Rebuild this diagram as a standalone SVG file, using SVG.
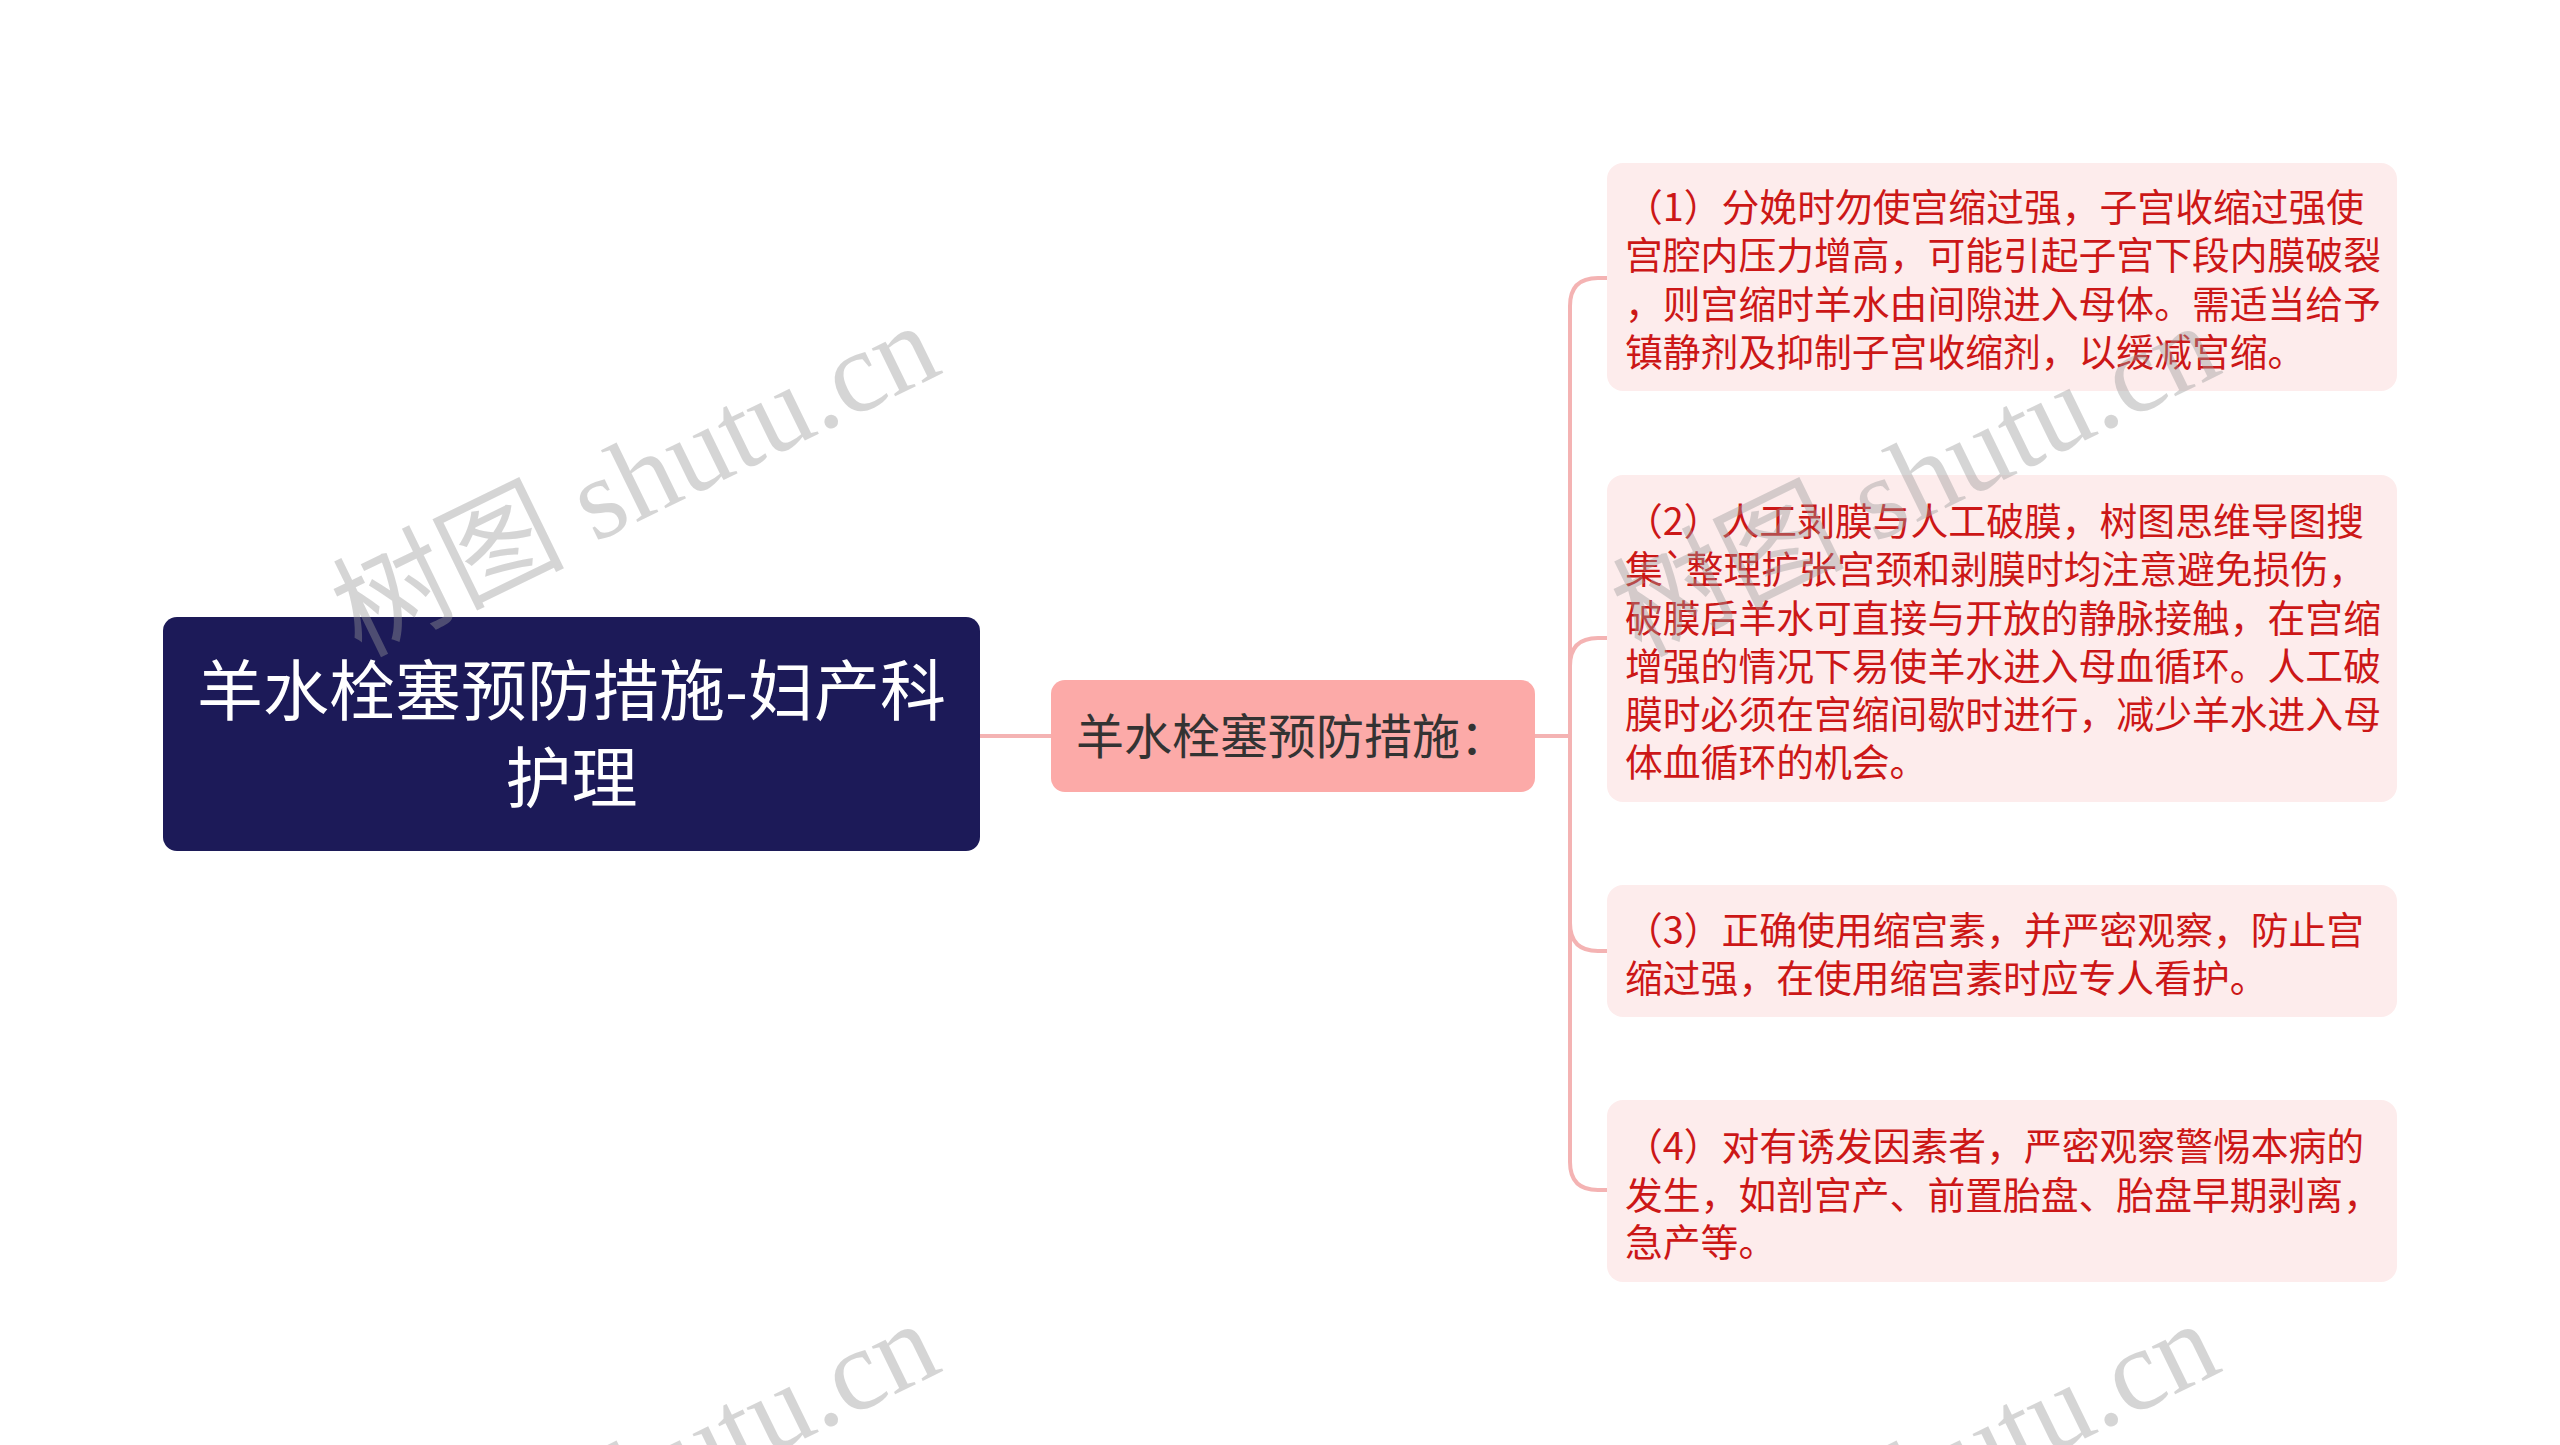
<svg xmlns="http://www.w3.org/2000/svg" width="2560" height="1445" viewBox="0 0 2560 1445">
<style>
.bg{fill:#ffffff}
.conn{fill:none;stroke:#f4b3b3;stroke-width:4;stroke-linecap:round}
.root rect{fill:#1c1a58}
.root text{fill:#ffffff;font-family:"Noto Sans CJK SC","Noto Sans",sans-serif;font-size:66px}
.mid rect{fill:#fcaaa8}
.mid text{fill:#333333;font-family:"Noto Sans CJK SC","Noto Sans",sans-serif;font-size:48px}
.leaf rect{fill:#fdecec}
.leaf text{fill:#cc1717;font-family:"Noto Sans CJK SC","Noto Sans",sans-serif;font-size:37.8px}
.wm{fill:#999999;opacity:0.4;font-family:"Liberation Serif","Noto Sans CJK SC",serif;font-size:116px}
</style>
<rect class="bg" x="0" y="0" width="2560" height="1445"/>
<g id="connectors">
<path class="conn" d="M980 736 H1051"/>
<path class="conn" d="M1535 736 H1570 V306 Q1570 278 1598 278 H1607"/>
<path class="conn" d="M1535 736 H1570 V666 Q1570 638 1598 638 H1607"/>
<path class="conn" d="M1535 736 H1570 V923 Q1570 951 1598 951 H1607"/>
<path class="conn" d="M1535 736 H1570 V1162 Q1570 1190 1598 1190 H1607"/>
</g>
<g id="root" class="root">
<rect x="163" y="617" width="817" height="234" rx="14"/>
<text x="571.5" y="715" text-anchor="middle">羊水栓塞预防措施-妇产科</text>
<text x="571.5" y="802" text-anchor="middle">护理</text>
</g>
<g id="middle" class="mid">
<rect x="1051" y="680" width="484" height="112" rx="14"/>
<text x="1076" y="754">羊水栓塞预防措施：</text>
</g>
<g id="leaf1" class="leaf">
<rect x="1607" y="163" width="790" height="228" rx="16"/>
<text x="1625" y="221">（1）分娩时勿使宫缩过强，子宫收缩过强使</text>
<text x="1625" y="269">宫腔内压力增高，可能引起子宫下段内膜破裂</text>
<text x="1625" y="318">，则宫缩时羊水由间隙进入母体。需适当给予</text>
<text x="1625" y="366">镇静剂及抑制子宫收缩剂，以缓减宫缩。</text>
</g>
<g id="leaf2" class="leaf">
<rect x="1607" y="475" width="790" height="327" rx="16"/>
<text x="1625" y="535">（2）人工剥膜与人工破膜，树图思维导图搜</text>
<text x="1625" y="583">集`整理扩张宫颈和剥膜时均注意避免损伤，</text>
<text x="1625" y="632">破膜后羊水可直接与开放的静脉接触，在宫缩</text>
<text x="1625" y="680">增强的情况下易使羊水进入母血循环。人工破</text>
<text x="1625" y="728">膜时必须在宫缩间歇时进行，减少羊水进入母</text>
<text x="1625" y="776">体血循环的机会。</text>
</g>
<g id="leaf3" class="leaf">
<rect x="1607" y="885" width="790" height="132" rx="16"/>
<text x="1625" y="944">（3）正确使用缩宫素，并严密观察，防止宫</text>
<text x="1625" y="992">缩过强，在使用缩宫素时应专人看护。</text>
</g>
<g id="leaf4" class="leaf">
<rect x="1607" y="1100" width="790" height="182" rx="16"/>
<text x="1625" y="1160">（4）对有诱发因素者，严密观察警惕本病的</text>
<text x="1625" y="1209">发生，如剖宫产、前置胎盘、胎盘早期剥离，</text>
<text x="1625" y="1256">急产等。</text>
</g>
<g id="watermarks">
<text class="wm" x="945" y="372" text-anchor="end" transform="rotate(-26 945 372)">树图 shutu.cn</text>
<text class="wm" x="2225" y="372" text-anchor="end" transform="rotate(-26 2225 372)">树图 shutu.cn</text>
<text class="wm" x="945" y="1370" text-anchor="end" transform="rotate(-26 945 1370)">树图 shutu.cn</text>
<text class="wm" x="2225" y="1370" text-anchor="end" transform="rotate(-26 2225 1370)">树图 shutu.cn</text>
</g>
</svg>
